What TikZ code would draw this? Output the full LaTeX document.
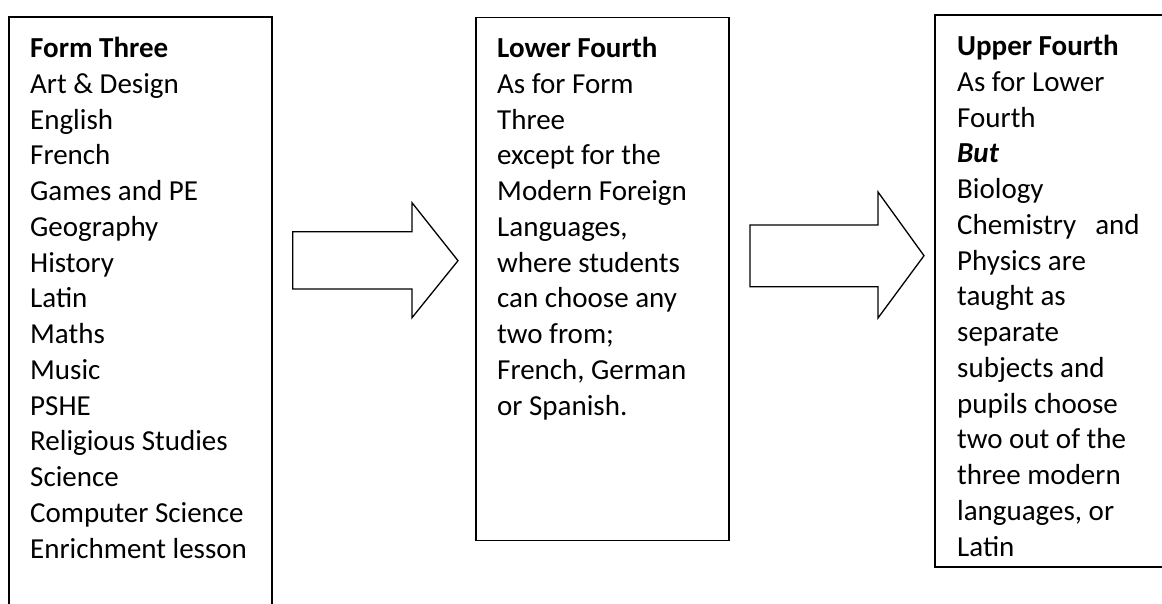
\documentclass[tikz,border=0pt]{standalone}
\usepackage{fontspec}
\setmainfont{Carlito}
\begin{document}
\begin{tikzpicture}[x=1pt,y=-1pt,
  boxstyle/.style={draw=black, line width=1.3pt, anchor=north west, inner sep=0pt, outer sep=0pt},
  txt/.style={anchor=north west, inner sep=0pt, align=left, font=\fontsize{29}{35.75}\selectfont},
  blockarrow/.style={draw=black, line width=1.3pt, fill=white, line join=miter}]
\useasboundingbox (0,0) rectangle (1162,604);
\clip (0,0) rectangle (1162,604);
% boxes
\node[boxstyle, minimum width=263pt, minimum height=660pt] (b1) at (9,17) {};
\node[boxstyle, minimum width=253pt, minimum height=523pt] (b2) at (476,17.5) {};
\node[boxstyle, minimum width=300pt, minimum height=552pt] (b3) at (935,15) {};
% texts
\node[txt] (t1) at (30,37) {\textbf{Form Three}\\Art \& Design\\English\\French\\Games and PE\\Geography\\History\\Latin\\Maths\\Music\\PSHE\\Religious Studies\\Science\\Computer Science\\Enrichment lesson};
\node[txt] (t2) at (497,37) {\textbf{Lower Fourth}\\As for Form\\Three\\except for the\\Modern Foreign\\Languages,\\where students\\can choose any\\two from;\\French, German\\or Spanish.};
\node[txt] (t3) at (957,35) {\textbf{Upper Fourth}\\As for Lower\\Fourth\\\textbf{\textit{But}}\\Biology\\Chemistry\hspace{19pt}and\\Physics are\\taught as\\separate\\subjects and\\pupils choose\\two out of the\\three modern\\languages, or\\Latin};
% block arrows
\coordinate (a1s) at (292.7,260.4);
\draw[blockarrow] (a1s) ++(0,-28.7) -- (412,231.7) -- (412,202.7) -- (458,260.7) -- (412,317.7) -- (412,289) -- (292.7,289) -- cycle;
\coordinate (a2s) at (750,255.9);
\draw[blockarrow] (a2s) ++(0,-30.9) -- (878,225) -- (878,192) -- (924,255.7) -- (878,318) -- (878,286.7) -- (750,286.7) -- cycle;
\end{tikzpicture}
\end{document}
